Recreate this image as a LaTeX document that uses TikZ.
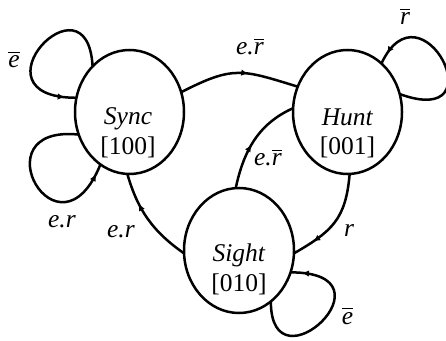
\documentclass[tikz,border=0pt]{standalone}
\usepackage{fontspec}
\setmainfont{Liberation Serif}
\usetikzlibrary{shapes.geometric,decorations.markings,arrows.meta}
\newcommand{\ovl}[1]{\leavevmode\vbox{\hrule height 1.2pt\kern 2.5pt\hbox{#1}}}
\begin{document}
\begin{tikzpicture}[x=1pt,y=1pt,line width=2.5pt,
  state/.style={ellipse,draw,minimum width=109pt,minimum height=124pt,inner sep=0pt,outer sep=0pt},
  statetext/.style={anchor=base,inner sep=0pt,font=\fontsize{25.5}{29.5}\selectfont},
  lbl/.style={anchor=base,inner sep=0pt,font=\fontsize{25.5}{29.5}\selectfont},
  arr/.style={postaction={decorate},decoration={markings,mark=at position #1 with {\arrow{Latex[length=7pt,width=6.5pt]}}}}]
\useasboundingbox (0,0) rectangle (446,340);
% states
\node[state] (sync) at (129.5,228) {};
\node[state] (hunt) at (347.5,228) {};
\node[state,minimum width=110pt,minimum height=125pt] (sight) at (239,89.5) {};
\node[statetext] (synct) at (128,215) {\begin{tabular}[t]{@{}c@{}}\textit{Sync}\\{[100]}\end{tabular}};
\node[statetext] (huntt) at (347.5,214.7) {\begin{tabular}[t]{@{}c@{}}\textit{Hunt}\\{[001]}\end{tabular}};
\node[statetext] (sightt) at (239,78.3) {\begin{tabular}[t]{@{}c@{}}\textit{Sight}\\{[010]}\end{tabular}};
% transitions
\draw[arr=0.58] (sync.21) .. controls +(27:59) and +(163:59) .. (hunt.153);
\draw[arr=0.45] (sight.93) .. controls +(78:38) and +(204:38) .. (hunt.176);
\draw[arr=0.68] (sight.183) .. controls +(145:38) and +(286:38) .. (sync.268);
\draw[arr=0.78] (hunt.272) .. controls +(265:45) and +(30:45) .. (sight.357);
\draw[arr=0.93] (sync.129) .. controls +(93:97) and +(180:110) .. (sync.165);
\draw[arr=0.94] (sync.204) .. controls +(174:102) and +(248:112) .. (sync.241);
\draw[arr=0.93] (hunt.19) .. controls +(-20:106) and +(65:94) .. (hunt.55);
\draw[arr=0.93] (sight.302) .. controls +(270:92) and +(0:110) .. (sight.337);
% labels
\node[lbl] (l1) at (14,272) {\ovl{\textit{e}}};
\node[lbl] (l2) at (62,113) {\textit{e.r}};
\node[lbl] (l3) at (250,285) {\textit{e.}\ovl{\textit{r}}};
\node[lbl] (l4) at (268,174) {\textit{e.}\ovl{\textit{r}}};
\node[lbl] (l5) at (121,103) {\textit{e.r}};
\node[lbl] (l6) at (405,315) {\ovl{\textit{r}}};
\node[lbl] (l7) at (349,103.3) {\textit{r}};
\node[lbl] (l8) at (347.5,16) {\ovl{\textit{e}}};
\end{tikzpicture}
\end{document}
